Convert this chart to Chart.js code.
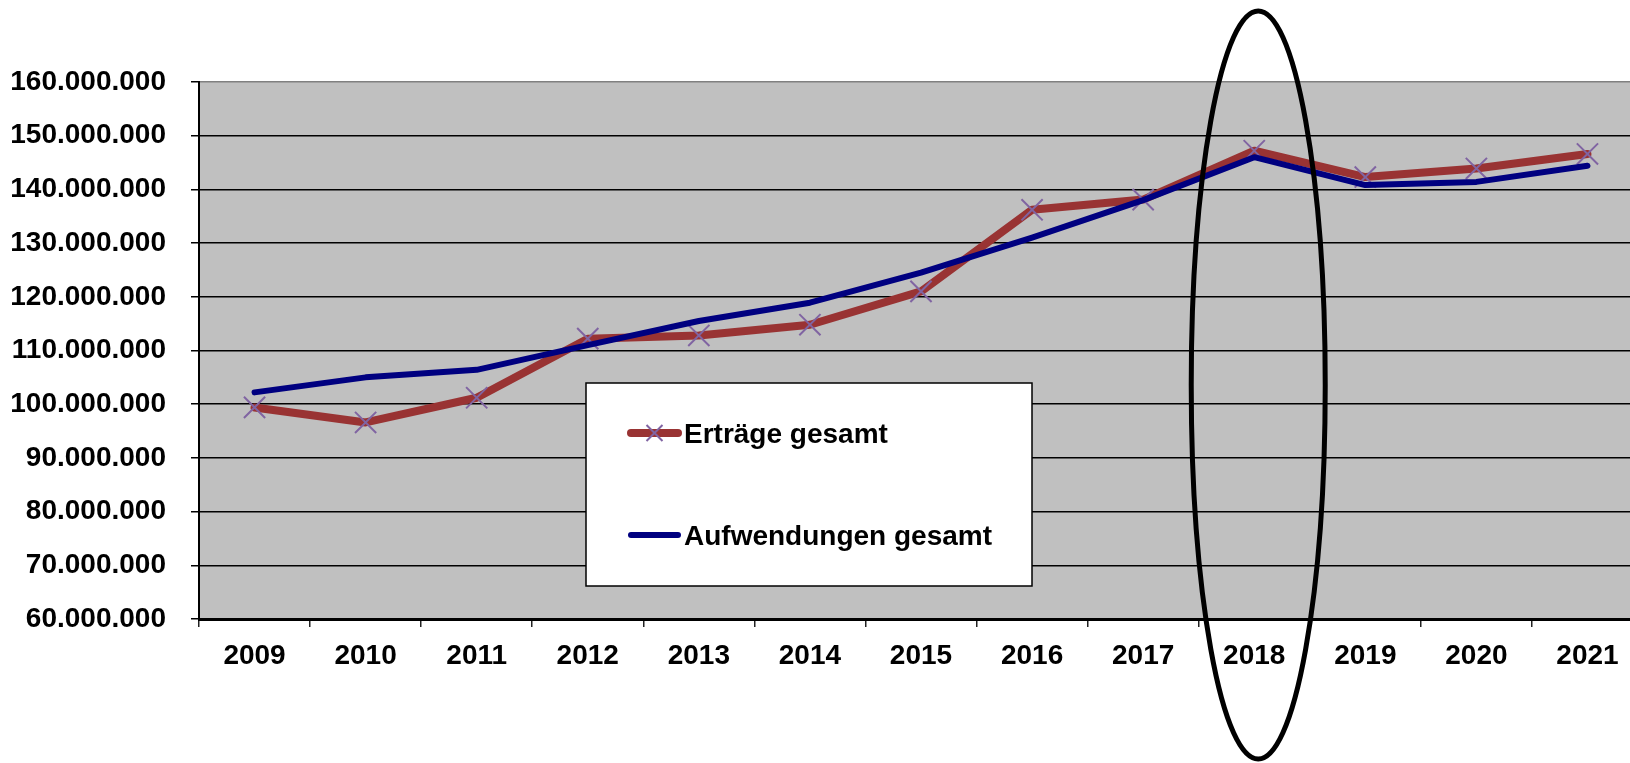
<!DOCTYPE html>
<html lang="de">
<head>
<meta charset="utf-8">
<title>Erträge und Aufwendungen 2009–2021</title>
<script src="https://cdn.jsdelivr.net/npm/chart.js@4.4.1/dist/chart.umd.min.js"></script>
<style>
    html, body { margin: 0; padding: 0; background: #fff; overflow: hidden; }
    #chart { display: block; }
</style>
</head>
<body>
<canvas id="chart" width="1643" height="763"></canvas>
<script>
const years = ['2009', '2010', '2011', '2012', '2013', '2014', '2015', '2016', '2017', '2018', '2019', '2020', '2021'];
const ertraege = [99400000, 96600000, 101200000, 112200000, 112800000, 114800000, 121000000, 136200000, 138100000, 147200000, 142300000, 143900000, 146600000];
const aufwendungen = [102200000, 105000000, 106400000, 111000000, 115500000, 118900000, 124500000, 131000000, 138000000, 146000000, 140800000, 141400000, 144400000];
const yMin = 60000000;
const yMax = 160000000;
const yStep = 10000000;
const markedYear = '2018';

const FONT = "'Liberation Sans', Arial, sans-serif";
const MARKER = '#8064a2';

function formatDE(v) {
    return String(v).replace(/\B(?=(\d{3})+(?!\d))/g, '.');
}

// grey plot background
const plotBackground = {
    id: 'plotBackground',
    beforeDraw(chart) {
        const { ctx, chartArea: a } = chart;
        ctx.save();
        ctx.fillStyle = '#c0c0c0';
        ctx.fillRect(a.left, a.top, a.right - a.left, a.bottom - a.top);
        ctx.restore();
    }
};

function drawCross(ctx, x, y, half) {
    ctx.beginPath();
    ctx.moveTo(x - half, y - half);
    ctx.lineTo(x + half, y + half);
    ctx.moveTo(x - half, y + half);
    ctx.lineTo(x + half, y - half);
    ctx.stroke();
}

// legend box inside the plot
const legendBox = {
    id: 'legendBox',
    afterDraw(chart) {
        const ctx = chart.ctx;
        const rows = [433, 535];
        ctx.save();
        ctx.fillStyle = '#fff';
        ctx.fillRect(586, 383, 446, 203);
        ctx.strokeStyle = '#000';
        ctx.lineWidth = 1.5;
        ctx.strokeRect(586, 383, 446, 203);
        chart.data.datasets.forEach((ds, i) => {
            const y = rows[i];
            ctx.lineCap = 'round';
            ctx.strokeStyle = ds.borderColor;
            ctx.lineWidth = ds.borderWidth;
            ctx.beginPath();
            ctx.moveTo(631, y);
            ctx.lineTo(678, y);
            ctx.stroke();
            if (ds.pointRadius > 0) {
                ctx.lineCap = 'butt';
                ctx.strokeStyle = MARKER;
                ctx.lineWidth = 2;
                drawCross(ctx, 654.5, y, 8);
            }
            ctx.fillStyle = '#000';
            ctx.font = `bold 28px ${FONT}`;
            ctx.textBaseline = 'alphabetic';
            ctx.fillText(ds.label, 684, y + 10);
        });
        ctx.restore();
    }
};

// ellipse around the marked year
const yearMark = {
    id: 'yearMark',
    afterDraw(chart) {
        const ctx = chart.ctx;
        const cx = chart.scales.x.getPixelForValue(years.indexOf(markedYear)) + 4;
        ctx.save();
        ctx.strokeStyle = '#000';
        ctx.lineWidth = 5;
        ctx.beginPath();
        ctx.ellipse(cx, 385, 67, 374, 0, 0, Math.PI * 2);
        ctx.stroke();
        ctx.restore();
    }
};

new Chart(document.getElementById('chart'), {
    type: 'line',
    data: {
        labels: years,
        datasets: [
            {
                label: 'Erträge gesamt',
                data: ertraege,
                borderColor: '#993333',
                borderWidth: 8,
                borderCapStyle: 'round',
                borderJoinStyle: 'round',
                pointStyle: 'crossRot',
                pointRadius: 15,
                pointBorderColor: MARKER,
                pointBorderWidth: 2,
                pointBackgroundColor: 'transparent',
                order: 1
            },
            {
                label: 'Aufwendungen gesamt',
                data: aufwendungen,
                borderColor: '#000080',
                borderWidth: 6,
                borderCapStyle: 'round',
                borderJoinStyle: 'round',
                pointRadius: 0,
                order: 0
            }
        ]
    },
    options: {
        responsive: false,
        animation: false,
        events: [],
        layout: { autoPadding: false, padding: { top: 82, right: 0, bottom: 0, left: 0 } },
        elements: { line: { tension: 0 } },
        plugins: {
            legend: { display: false },
            tooltip: { enabled: false }
        },
        scales: {
            x: {
                offset: true,
                afterFit(scale) {
                    scale.height = 144;
                    scale.paddingLeft = 0;
                    scale.paddingRight = 0;
                },
                border: { color: '#000', width: 3 },
                grid: { offset: true, drawOnChartArea: false, drawTicks: true, tickLength: 8, color: '#222', lineWidth: 1.5 },
                ticks: {
                    padding: 12,
                    color: '#000',
                    maxRotation: 0,
                    autoSkip: false,
                    font: { family: FONT, size: 28, weight: 'bold' }
                }
            },
            y: {
                min: yMin,
                max: yMax,
                afterFit(scale) { scale.width = 199; },
                border: { color: '#000', width: 2 },
                grid: {
                    color: (c) => (c.tick && c.tick.value === yMax ? '#808080' : '#000'),
                    tickColor: '#000',
                    lineWidth: 1.5,
                    tickLength: 8
                },
                ticks: {
                    stepSize: yStep,
                    padding: 25,
                    color: '#000',
                    font: { family: FONT, size: 28, weight: 'bold' },
                    callback: (v) => formatDE(v)
                }
            }
        }
    },
    plugins: [plotBackground, legendBox, yearMark]
});
</script>
</body>
</html>
